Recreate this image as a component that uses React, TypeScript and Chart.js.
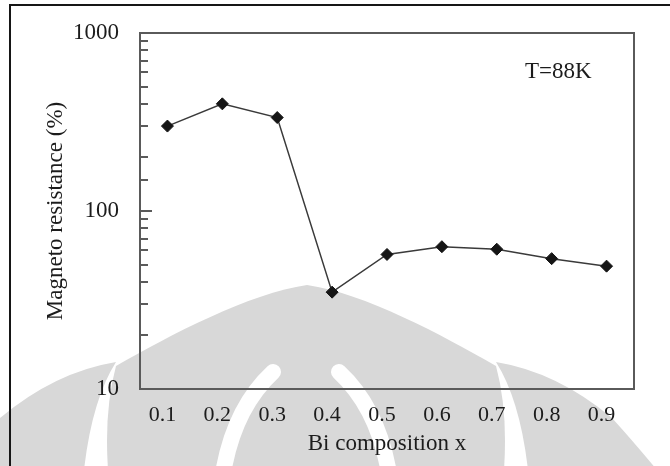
import React, { useEffect, useRef } from "react";
import { Chart, registerables } from "chart.js";

Chart.register(...registerables);

// Bi composition of the samples and their magnetoresistance at 88 K
const biComposition = [0.1, 0.2, 0.3, 0.4, 0.5, 0.6, 0.7, 0.8, 0.9];
const magnetoResistance = [300, 400, 335, 35, 57, 63, 61, 54, 49];
const yTickLabels = [10, 100, 1000];
const xTickLabels = [0.1, 0.2, 0.3, 0.4, 0.5, 0.6, 0.7, 0.8, 0.9];
const temperatureNote = "T=88K";

const SERIF = '"Liberation Serif", "Times New Roman", serif';
const INK = "#1c1c1c";
const EMBLEM_GRAY = "#d8d8d8";

// faint emblem printed behind the figure
const emblemPlugin = {
  id: "emblem",
  beforeDraw(chart: any) {
    const ctx = chart.ctx as CanvasRenderingContext2D;
    ctx.save();
    ctx.fillStyle = "#ffffff";
    ctx.fillRect(0, 0, chart.width, chart.height);
    ctx.fillStyle = EMBLEM_GRAY;
    // left blade
    ctx.beginPath();
    ctx.moveTo(-45, 470);
    ctx.quadraticCurveTo(-20, 440, 0, 418);
    ctx.quadraticCurveTo(55, 372, 116, 362);
    ctx.quadraticCurveTo(92, 400, 84, 470);
    ctx.closePath();
    ctx.fill();
    // right blade
    ctx.beginPath();
    ctx.moveTo(657, 470);
    ctx.quadraticCurveTo(632, 440, 612, 418);
    ctx.quadraticCurveTo(557, 372, 496, 362);
    ctx.quadraticCurveTo(520, 400, 528, 470);
    ctx.closePath();
    ctx.fill();
    // central dome
    ctx.beginPath();
    ctx.moveTo(108, 470);
    ctx.quadraticCurveTo(104, 410, 116, 366);
    ctx.bezierCurveTo(170, 335, 250, 293, 307, 285);
    ctx.bezierCurveTo(364, 293, 442, 335, 496, 366);
    ctx.quadraticCurveTo(508, 410, 504, 470);
    ctx.closePath();
    ctx.fill();
    // light strips inside the dome
    ctx.strokeStyle = "#ffffff";
    ctx.lineWidth = 16;
    ctx.lineCap = "round";
    ctx.beginPath();
    ctx.moveTo(273, 372);
    ctx.quadraticCurveTo(232, 410, 222, 480);
    ctx.stroke();
    ctx.beginPath();
    ctx.moveTo(339, 372);
    ctx.quadraticCurveTo(380, 410, 390, 480);
    ctx.stroke();
    ctx.restore();
  },
};

// plot frame, inward log ticks, outer frame and the temperature note
const framePlugin = {
  id: "frame",
  beforeDatasetsDraw(chart: any) {
    const { ctx, chartArea } = chart;
    const { left, top, right, bottom } = chartArea;
    ctx.save();
    ctx.strokeStyle = "#5a5a5a";
    ctx.lineWidth = 2;
    ctx.strokeRect(left, top, right - left, bottom - top);
    const y = chart.scales.y;
    for (const t of y.ticks) {
      const v = t.value;
      if (v <= 10 || v >= 1000) continue;
      const py = Math.round(y.getPixelForValue(v));
      const major = Math.abs(Math.log10(v) - Math.round(Math.log10(v))) < 1e-9;
      const len = major ? 12 : 8;
      ctx.beginPath();
      ctx.moveTo(left, py);
      ctx.lineTo(left + len, py);
      ctx.stroke();
    }
    ctx.restore();
  },
  afterDraw(chart: any) {
    const { ctx } = chart;
    ctx.save();
    ctx.strokeStyle = "#161616";
    ctx.lineWidth = 2;
    ctx.strokeRect(10, 5, 720, 520);
    ctx.fillStyle = INK;
    ctx.font = `23px ${SERIF}`;
    ctx.textAlign = "left";
    ctx.textBaseline = "alphabetic";
    ctx.fillText(temperatureNote, 525, 78);
    ctx.restore();
  },
};

export default function App() {
  const canvasRef = useRef<HTMLCanvasElement | null>(null);

  useEffect(() => {
    const canvas = canvasRef.current;
    if (!canvas) return;
    const chart = new Chart(canvas, {
      type: "line",
      data: {
        datasets: [
          {
            data: biComposition.map((x, i) => ({ x, y: magnetoResistance[i] })),
            borderColor: "#3a3a3a",
            borderWidth: 1.5,
            pointStyle: "rectRot",
            pointRadius: 6,
            pointBackgroundColor: "#151515",
            pointBorderColor: "#151515",
            pointBorderWidth: 1,
            tension: 0,
          },
        ],
      },
      options: {
        responsive: false,
        animation: false,
        devicePixelRatio: 1,
        layout: { padding: { left: 0, top: 33, right: 36, bottom: 0 } },
        plugins: { legend: { display: false }, tooltip: { enabled: false } },
        scales: {
          x: {
            type: "linear",
            min: 0.05,
            max: 0.95,
            afterBuildTicks: (s: any) => {
              s.ticks = xTickLabels.map((v) => ({ value: v }));
            },
            afterFit: (s: any) => {
              s.height = 77;
            },
            grid: { display: false },
            border: { display: false },
            ticks: {
              font: { family: SERIF, size: 22 },
              color: INK,
              padding: 5,
              labelOffset: -5,
              maxRotation: 0,
              autoSkip: false,
              callback: (v: any) => Number(v).toFixed(1),
            },
            title: {
              display: true,
              text: "Bi composition x",
              font: { family: SERIF, size: 23 },
              color: INK,
              padding: { top: 0, bottom: 8 },
            },
          },
          y: {
            type: "logarithmic",
            min: 10,
            max: 1000,
            afterFit: (s: any) => {
              s.width = 140;
            },
            grid: { display: false },
            border: { display: false },
            ticks: {
              font: { family: SERIF, size: 23 },
              color: INK,
              padding: 13,
              autoSkip: false,
              callback: (v: any) => (yTickLabels.includes(Number(v)) ? String(v) : ""),
            },
            title: {
              display: true,
              text: "Magneto resistance (%)",
              font: { family: SERIF, size: 23 },
              color: INK,
              padding: { top: 42, bottom: 0 },
            },
          },
        },
      },
      plugins: [emblemPlugin, framePlugin],
    });
    return () => chart.destroy();
  }, []);

  return (
    <div style={{ position: "absolute", left: 0, top: 0, width: 670, height: 466 }}>
      <canvas ref={canvasRef} width={670} height={466} style={{ display: "block" }} />
    </div>
  );
}
